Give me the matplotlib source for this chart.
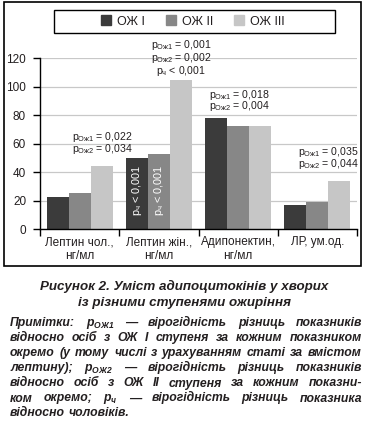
import matplotlib.pyplot as plt
import matplotlib.patches as mpatches
import numpy as np

plt.rcParams['font.family'] = ['Liberation Sans', 'DejaVu Sans']
plt.rcParams['mathtext.fontset'] = 'custom'
plt.rcParams['mathtext.rm'] = 'Liberation Sans'
plt.rcParams['mathtext.it'] = 'Liberation Sans:italic'
plt.rcParams['mathtext.bf'] = 'Liberation Sans:bold'
plt.rcParams['mathtext.bfit'] = 'Liberation Sans:italic:bold'

# data
categories = ["Лептин чол.,\nнг/мл", "Лептин жін.,\nнг/мл", "Адипонектин,\nнг/мл", "ЛР, ум.од."]
series_names = ["ОЖ I", "ОЖ II", "ОЖ III"]
ozh1 = [22.8, 50.0, 78.3, 17.0]
ozh2 = [25.6, 52.8, 72.5, 19.2]
ozh3 = [44.3, 104.8, 72.5, 34.0]
colors = ["#3b3b3b", "#878787", "#c6c6c6"]

p_labels = [
    [r"$\mathrm{p}_{\mathrm{Ож1}}$ = 0,022", r"$\mathrm{p}_{\mathrm{Ож2}}$ = 0,034"],
    [r"$\mathrm{p}_{\mathrm{Ож1}}$ = 0,001", r"$\mathrm{p}_{\mathrm{Ож2}}$ = 0,002", r"$\mathrm{p}_{\mathrm{ч}}$ < 0,001"],
    [r"$\mathrm{p}_{\mathrm{Ож1}}$ = 0,018", r"$\mathrm{p}_{\mathrm{Ож2}}$ = 0,004"],
    [r"$\mathrm{p}_{\mathrm{Ож1}}$ = 0,035", r"$\mathrm{p}_{\mathrm{Ож2}}$ = 0,044"],
]
in_bar_label = r"$\mathrm{p}_{\mathrm{ч}}$ < 0,001"

caption = ["Рисунок 2. Уміст адипоцитокінів у хворих", "із різними ступенями ожиріння"]
notes = [
    "Примітки: $\\mathbfit{p}_{\\mathbfit{ОЖ1}}$ — вірогідність різниць показників",
    "відносно осіб з ОЖ I ступеня за кожним показником",
    "окремо (у тому числі з урахуванням статі за вмістом",
    "лептину); $\\mathbfit{p}_{\\mathbfit{ОЖ2}}$ — вірогідність різниць показників",
    "відносно осіб з ОЖ II ступеня за кожним показни-",
    "ком окремо; $\\mathbfit{p}_{\\mathbfit{ч}}$ — вірогідність різниць показника",
    "відносно чоловіків.",
]

W, H = 369, 426
fig = plt.figure(figsize=(W / 100, H / 100), dpi=100)
txt = "#231f20"

def px(x, y):
    return x / W, 1 - y / H

# axes
ax = fig.add_axes([40 / W, 1 - 229.3 / H, 317 / W, 171 / H])
x = np.arange(len(categories))
bw = 0.278
for i, vals in enumerate([ozh1, ozh2, ozh3]):
    ax.bar(x + (i - 1) * bw, vals, bw, color=colors[i], label=series_names[i], zorder=2)

ax.set_xlim(-0.5, 3.5)
ax.set_ylim(0, 120)
ax.set_yticks(range(0, 121, 20))
ax.yaxis.grid(True, color="#c8c8c8", lw=0.9, zorder=0)
ax.set_axisbelow(True)
for s in ["top", "right"]:
    ax.spines[s].set_visible(False)
for s in ["left", "bottom"]:
    ax.spines[s].set_linewidth(1.0)
ax.tick_params(axis="y", direction="out", length=5, width=1, pad=5, labelsize=8.5, labelcolor=txt)
ax.set_xticks(x)
ax.set_xticklabels(categories, fontsize=8.5, color=txt, linespacing=1.15)
ax.set_xticks(np.arange(-0.5, 3.6, 1), minor=True)
ax.tick_params(axis="x", which="major", length=0, pad=5)
ax.tick_params(axis="x", which="minor", direction="out", length=5, width=1)

# p-value annotations
fs_a = 7.6
ax.text(-0.096, 64.6, p_labels[0][0], fontsize=fs_a, color=txt, va="center", ha="left")
ax.text(-0.096, 56.1, p_labels[0][1], fontsize=fs_a, color=txt, va="center", ha="left")
for t, yy in zip(p_labels[1], [129.3, 120.4, 111.4]):
    ax.text(1.28, yy, t, fontsize=fs_a, color=txt, va="center", ha="center", clip_on=False)
ax.text(1.633, 94.2, p_labels[2][0], fontsize=fs_a, color=txt, va="center", ha="left")
ax.text(1.633, 86.3, p_labels[2][1], fontsize=fs_a, color=txt, va="center", ha="left")
ax.text(2.752, 54.0, p_labels[3][0], fontsize=fs_a, color=txt, va="center", ha="left")
ax.text(2.752, 46.1, p_labels[3][1], fontsize=fs_a, color=txt, va="center", ha="left")
for k in [-1, 0]:
    ax.text(1 + k * bw, 27.5, in_bar_label, fontsize=7.8, color="white", rotation=90,
            va="center", ha="center")

# legend
handles = [mpatches.Patch(color=c) for c in colors]
fig.legend(handles, series_names, loc="center", bbox_to_anchor=px(193, 21.5), ncol=3,
           frameon=False, fontsize=9, handlelength=0.8, handleheight=0.8,
           handletextpad=0.45, columnspacing=1.7, labelcolor=txt)
x0, y0 = px(54, 33)
fig.add_artist(mpatches.Rectangle((x0, y0), 281 / W, 23 / H, transform=fig.transFigure,
                                  fill=False, ec="black", lw=1.0))
# outer frame
x0, y0 = px(4, 266)
fig.add_artist(mpatches.Rectangle((x0, y0), 357 / W, 264 / H, transform=fig.transFigure,
                                  fill=False, ec="black", lw=1.2))

# caption
for line, yb in zip(caption, [290, 306]):
    fig.text(*px(184, yb), line, fontsize=9.6, fontweight="bold", style="italic",
             color=txt, ha="center", va="baseline")

# notes, justified word by word
renderer = fig.canvas.get_renderer()
left, right = 10, 362
for n, (line, yb) in enumerate(zip(notes, [326, 341, 356, 371, 386.5, 401.5, 416.5])):
    words = line.split(" ")
    texts = [fig.text(*px(0, yb), w, fontsize=8.8, fontweight="bold", style="italic",
                      color=txt, ha="left", va="baseline") for w in words]
    widths = [t.get_window_extent(renderer).width for t in texts]
    if n == len(notes) - 1:
        gap = 3.5
    else:
        gap = (right - left - sum(widths)) / (len(words) - 1)
    xx = left
    for t, w in zip(texts, widths):
        t.set_x(xx / W)
        xx += w + gap

fig.savefig("out.png", dpi=100)
